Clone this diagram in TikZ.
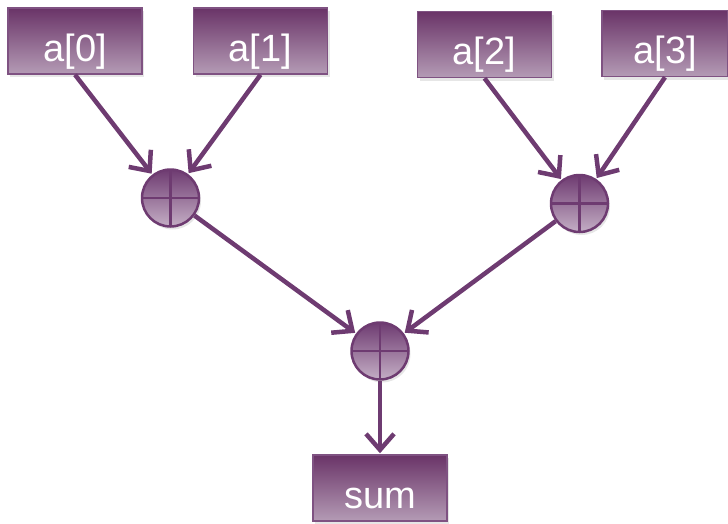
\documentclass[tikz,border=0pt]{standalone}
\usepackage{fontspec}
\setmainfont{Liberation Sans}
\usetikzlibrary{arrows.meta,shadows}
\definecolor{lnpurple}{HTML}{6E3B71}
\definecolor{boxtop}{HTML}{6A3468}
\definecolor{boxbot}{HTML}{B49BB5}
\definecolor{boxborder}{HTML}{7F5282}
\definecolor{circbot}{HTML}{C4AEC5}
\tikzset{
  valbox/.style={draw=boxborder, line width=1.5pt, top color=boxtop, bottom color=boxbot,
    minimum width=134pt, minimum height=66pt, inner sep=0pt, text=white,
    text height=40pt, text depth=0pt,
    font=\fontsize{38}{40}\selectfont,
    drop shadow={opacity=0.2, shadow xshift=2pt, shadow yshift=-3pt}},
  adder/.style={circle, draw=lnpurple, line width=2.5pt, top color=lnpurple, bottom color=circbot,
    minimum size=57pt, inner sep=0pt,
    drop shadow={opacity=0.2, shadow xshift=2pt, shadow yshift=-3pt},
    path picture={\draw[lnpurple, line width=2.5pt]
      (path picture bounding box.north) -- (path picture bounding box.south)
      (path picture bounding box.west) -- (path picture bounding box.east);}},
  conn/.style={draw=lnpurple, line width=4.5pt,
    -{Straight Barb[length=16pt, width=28pt, line width=4.5pt]}, shorten >=1pt}
}
\begin{document}
\begin{tikzpicture}[x=1pt, y=-1pt]
\useasboundingbox (0,0) rectangle (728,523);
\node[valbox] (a0) at (75,41) {a[0]};
\node[valbox] (a1) at (260.5,41) {a[1]};
\node[valbox] (a2) at (484.5,44.5) {a[2]};
\node[valbox, minimum width=126pt] (a3) at (665,43.5) {a[3]};
\node[valbox] (sum) at (380,488) {sum};
\node[adder] (c1) at (170.5,198) {};
\node[adder] (c2) at (579.5,203.5) {};
\node[adder] (c3) at (380,351) {};
\draw[conn] (a0.south) -- (c1);
\draw[conn] (a1.south) -- (c1);
\draw[conn] (a2.south) -- (c2);
\draw[conn] (a3.south) -- (c2);
\draw[conn] (c1) -- (c3);
\draw[conn] (c2) -- (c3);
\draw[conn] (c3) -- (sum);
\end{tikzpicture}
\end{document}
